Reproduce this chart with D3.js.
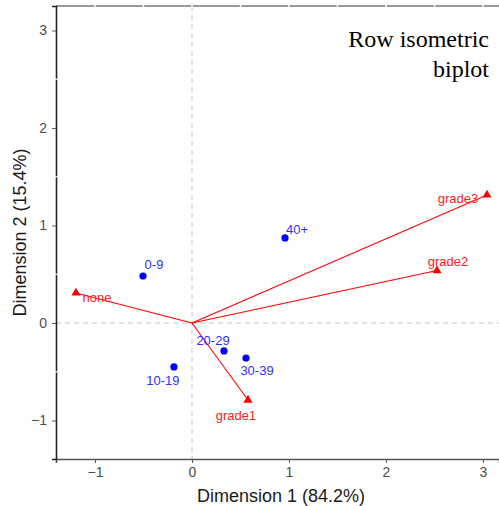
<!DOCTYPE html>
<html>
<head>
<meta charset="utf-8">
<script src="https://cdn.jsdelivr.net/npm/d3@7"></script>
<style>
  body { margin: 0; background: #fff; }
  svg text { font-family: "Liberation Sans", Arial, sans-serif; }
</style>
</head>
<body>
<svg width="499" height="506"></svg>
<script>
// row points (age groups)
var rowNames = ["0-9", "10-19", "20-29", "30-39", "40+"];
var rowX = [-0.505, -0.186, 0.330, 0.557, 0.959];
var rowY = [0.482, -0.451, -0.287, -0.359, 0.872];

// column points (grades)
var colNames = ["none", "grade1", "grade2", "grade3"];
var colX = [-1.196, 0.577, 2.526, 3.041];
var colY = [0.308, -0.790, 0.538, 1.313];

var xTicks = [-1, 0, 1, 2, 3];
var yTicks = [-1, 0, 1, 2, 3];

var svg = d3.select("svg"),
    margin = {top: 6, right: 0, bottom: 47, left: 56},
    width = +svg.attr("width") - margin.left - margin.right,
    height = +svg.attr("height") - margin.top - margin.bottom;

var x = d3.scaleLinear()
    .domain([-1.402, 3.165])
    .range([margin.left, margin.left + width]);

var y = d3.scaleLinear()
    .domain([-1.395, 3.251])
    .range([margin.top + height, margin.top]);

// label nudges in pixels (dx, dy)
var rowNudge = {"0-9": [11, -11], "10-19": [-11, 14], "20-29": [-11, -10], "30-39": [11, 13], "40+": [12, -8]};
var colNudge = {"none": [21, 5], "grade1": [-12, 15], "grade2": [11, -9], "grade3": [-29, 4]};

// reference lines
svg.append("line")
    .attr("x1", x(0)).attr("x2", x(0))
    .attr("y1", margin.top).attr("y2", margin.top + height)
    .attr("stroke", "#c4c4c4").attr("stroke-dasharray", "5,4");
svg.append("line")
    .attr("x1", margin.left).attr("x2", margin.left + width)
    .attr("y1", y(0)).attr("y2", y(0))
    .attr("stroke", "#c4c4c4").attr("stroke-dasharray", "5,4");

// top border with white grid gaps
svg.append("line")
    .attr("x1", margin.left).attr("x2", margin.left + width)
    .attr("y1", margin.top).attr("y2", margin.top)
    .attr("stroke", "#333").attr("stroke-width", 1.2);
svg.selectAll(".topgap")
  .data(d3.range(-1, 3.01, 0.5))
  .enter().append("line")
    .attr("x1", function(d) { return x(d); })
    .attr("x2", function(d) { return x(d); })
    .attr("y1", margin.top - 2).attr("y2", margin.top + 2)
    .attr("stroke", "#fff").attr("stroke-width", 1.5);

// axes
var gx = svg.append("g")
    .attr("transform", "translate(0," + (margin.top + height) + ")")
    .call(d3.axisBottom(x).tickValues(xTicks).tickSize(4).tickPadding(4).tickFormat(d3.format("d")));
gx.select(".domain").attr("stroke", "#555").attr("stroke-width", 1.6);
gx.selectAll(".tick line").attr("stroke", "#555");
gx.selectAll(".tick text").attr("fill", "#4d4d4d").style("font-size", "14px");

var gy = svg.append("g")
    .attr("transform", "translate(" + margin.left + ",0)")
    .call(d3.axisLeft(y).tickValues(yTicks).tickSize(4).tickPadding(5).tickFormat(d3.format("d")));
gy.select(".domain").attr("stroke", "#222").attr("stroke-width", 1.6);
gy.selectAll(".tick line").attr("stroke", "#555");
gy.selectAll(".tick text").attr("fill", "#4d4d4d").style("font-size", "14px");

svg.selectAll(".leftgap")
  .data([-0.5, 0.5, 1.5, 2.5])
  .enter().append("line")
    .attr("x1", margin.left - 1.5).attr("x2", margin.left + 1.5)
    .attr("y1", function(d) { return y(d); })
    .attr("y2", function(d) { return y(d); })
    .attr("stroke", "#fff").attr("stroke-width", 1.2);

// axis titles
svg.append("text")
    .attr("x", 281).attr("y", 502)
    .attr("text-anchor", "middle")
    .attr("fill", "#1a1a1a")
    .style("font-size", "18px")
    .text("Dimension 1 (84.2%)");
svg.append("text")
    .attr("transform", "translate(26," + (margin.top + height / 2) + ") rotate(-90)")
    .attr("text-anchor", "middle")
    .attr("fill", "#1a1a1a")
    .style("font-size", "18px")
    .text("Dimension 2 (15.4%)");

// arrows to column points
svg.selectAll(".arrow")
  .data(colNames)
  .enter().append("line")
    .attr("x1", x(0)).attr("y1", y(0))
    .attr("x2", function(d, i) { return x(colX[i]); })
    .attr("y2", function(d, i) { return y(colY[i]); })
    .attr("stroke", "#ff0000").attr("stroke-width", 1.1);

var tri = d3.symbol().type(d3.symbolTriangle).size(36);
svg.selectAll(".colpt")
  .data(colNames)
  .enter().append("path")
    .attr("d", tri)
    .attr("transform", function(d, i) { return "translate(" + x(colX[i]) + "," + y(colY[i]) + ")"; })
    .attr("fill", "#ff0000");

svg.selectAll(".collab")
  .data(colNames)
  .enter().append("text")
    .attr("x", function(d, i) { return x(colX[i]) + colNudge[d][0]; })
    .attr("y", function(d, i) { return y(colY[i]) + colNudge[d][1]; })
    .attr("text-anchor", "middle")
    .attr("dominant-baseline", "central")
    .attr("fill", "#ff2020")
    .style("font-size", "13px")
    .text(function(d) { return d; });

// row points
svg.selectAll(".rowpt")
  .data(rowNames)
  .enter().append("circle")
    .attr("cx", function(d, i) { return x(rowX[i]); })
    .attr("cy", function(d, i) { return y(rowY[i]); })
    .attr("r", 3.6)
    .attr("fill", "#0000ff");

svg.selectAll(".rowlab")
  .data(rowNames)
  .enter().append("text")
    .attr("x", function(d, i) { return x(rowX[i]) + rowNudge[d][0]; })
    .attr("y", function(d, i) { return y(rowY[i]) + rowNudge[d][1]; })
    .attr("text-anchor", "middle")
    .attr("dominant-baseline", "central")
    .attr("fill", "#3030ff")
    .style("font-size", "13px")
    .text(function(d) { return d; });

// title
var title = svg.append("text")
    .attr("text-anchor", "end")
    .attr("fill", "#000")
    .style("font-family", "'Liberation Serif', 'Times New Roman', serif")
    .style("font-size", "24px");
title.append("tspan").attr("x", 489).attr("y", 47).text("Row isometric");
title.append("tspan").attr("x", 489).attr("y", 77).text("biplot");
</script>
</body>
</html>
